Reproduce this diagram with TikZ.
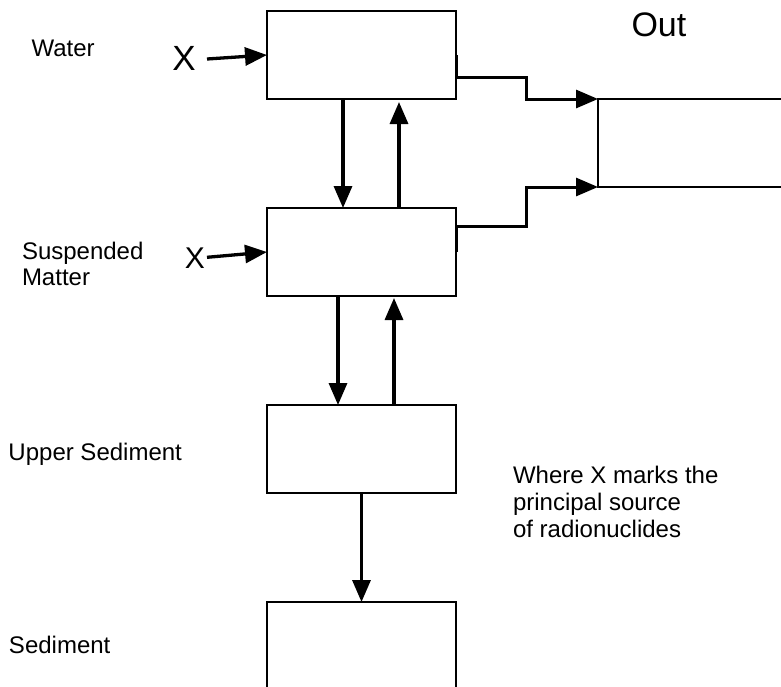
\documentclass[tikz,border=0pt]{standalone}
\usepackage{fontspec}
\setmainfont{Liberation Sans}
\usetikzlibrary{arrows.meta}

\tikzset{
  compartment/.style={draw, line width=1.7pt, minimum width=189pt, minimum height=88pt,
    inner sep=0pt, outer sep=0pt, anchor=north west},
  flow/.style={line width=3.3pt, -{Triangle[length=22pt,width=18pt]}},
  lbl/.style={font=\fontsize{24}{26.5}\selectfont, inner sep=0pt, outer sep=0pt, anchor=base west},
  src/.style={inner sep=0pt, outer sep=0pt, anchor=base},
}

\begin{document}
\begin{tikzpicture}[x=1pt, y=-1pt, line join=miter]
  \useasboundingbox (0,0) rectangle (781,686);
  \clip (0,0) rectangle (781,686);

  % compartments
  \node[compartment] (water) at (267,11) {};
  \node[compartment] (susp)  at (267,208) {};
  \node[compartment] (upper) at (267,405) {};
  \node[compartment] (sed)   at (267,602) {};
  \node[compartment, minimum width=260pt] (out) at (598,99) {};

  % labels
  \node[lbl] (lwater) at (31.5,56) {Water};
  \node[lbl] (lsusp)  at (22,259) {\begin{tabular}[t]{@{}l@{}}Suspended\\Matter\end{tabular}};
  \node[lbl] (lupper) at (8.5,460) {Upper Sediment};
  \node[lbl] (lsed)   at (9,653) {Sediment};
  \node[lbl, font=\fontsize{34}{36}\selectfont] (lout) at (631.5,36.3) {Out};
  \node[lbl, font=\fontsize{24}{27}\selectfont] (note) at (513,483.3)
    {\begin{tabular}[t]{@{}l@{}}Where X marks the\\principal source\\of radionuclides\end{tabular}};

  % sources
  \node[src, font=\fontsize{35}{37}\selectfont] (xw) at (184,70) {X};
  \node[src, font=\fontsize{30}{32}\selectfont] (xs) at (195,268.3) {X};
  \draw[flow] ([shift={(23,-11)}]xw.base) -- (water.west);
  \draw[flow] ([shift={(12,-11)}]xs.base) -- (susp.west);

  % exchange between compartments
  \draw[flow] ([xshift=-18.5pt]water.south) -- ([xshift=-18.5pt]susp.north);
  \draw[flow, shorten >=3pt] ([xshift=37.5pt]susp.north) -- ([xshift=37.5pt]water.south);
  \draw[flow] ([xshift=-23.5pt]susp.south) -- ([xshift=-23.5pt]upper.north);
  \draw[flow, shorten >=2pt] ([xshift=32.5pt]upper.north) -- ([xshift=32.5pt]susp.south);
  \draw[flow] (upper.south) -- (sed.north);

  % outflow
  \draw[flow, line width=3pt] (water.east) -- ++(0,22.5) -- ++(70.5,0) |- (out.north west);
  \draw[flow, line width=3pt] (susp.east) -- ++(0,-26) -- ++(70.5,0) |- (out.south west);
\end{tikzpicture}
\end{document}
